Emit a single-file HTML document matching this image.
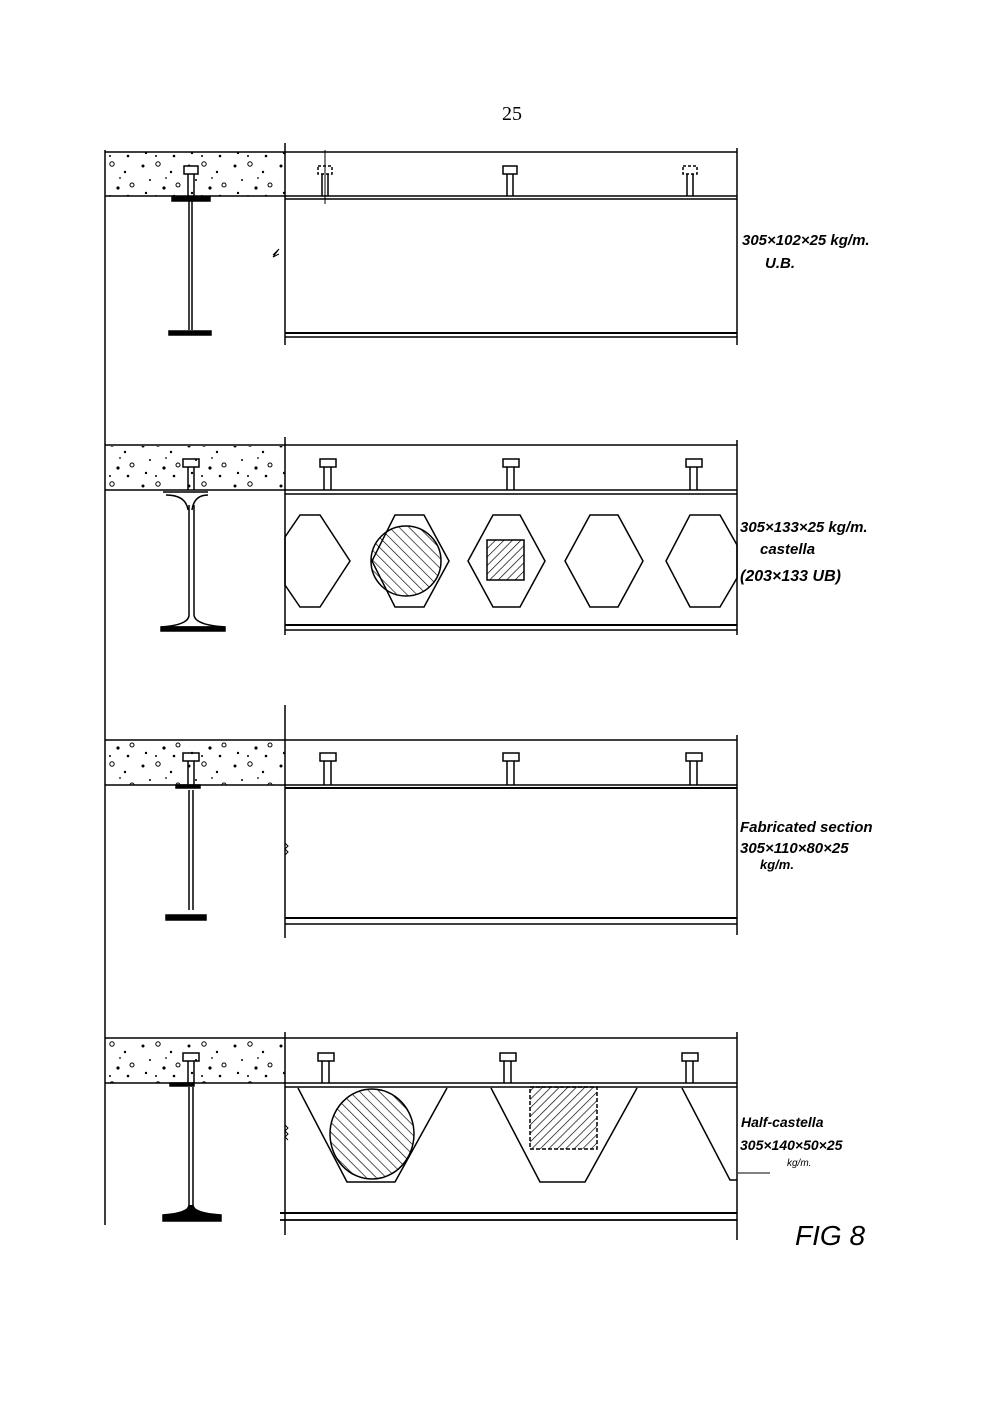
<!DOCTYPE html>
<html><head><meta charset="utf-8"><style>
html,body{margin:0;padding:0;background:#fff;width:1000px;height:1420px;overflow:hidden}
svg{display:block}
.l{font-family:"Liberation Sans",sans-serif;font-weight:bold;font-style:italic;fill:#000}
</style></head><body>
<svg width="1000" height="1420" viewBox="0 0 1000 1420" xmlns="http://www.w3.org/2000/svg">
<defs>
<pattern id="conc" width="46" height="40" patternUnits="userSpaceOnUse">
<circle cx="5" cy="6" r="1.5" fill="#000"/><circle cx="20" cy="4" r="2.2" fill="none" stroke="#000" stroke-width="1"/>
<circle cx="33" cy="12" r="1.2" fill="#000"/><circle cx="12" cy="20" r="1" fill="#000"/>
<circle cx="40" cy="25" r="2" fill="none" stroke="#000" stroke-width="1"/><circle cx="26" cy="28" r="1.6" fill="#000"/>
<circle cx="8" cy="33" r="1.2" fill="#000"/><circle cx="18" cy="36" r="1" fill="#000"/>
<circle cx="36" cy="36" r="1.3" fill="#000"/><circle cx="28" cy="18" r="0.9" fill="#000"/>
</pattern>
<pattern id="hatch" width="6" height="6" patternUnits="userSpaceOnUse" patternTransform="rotate(45)">
<line x1="0" y1="0" x2="0" y2="6" stroke="#000" stroke-width="1.3"/></pattern>
<pattern id="hatch2" width="7" height="7" patternUnits="userSpaceOnUse" patternTransform="rotate(-45)">
<line x1="0" y1="0" x2="0" y2="7" stroke="#000" stroke-width="1.3"/></pattern>
<clipPath id="trap1"><polygon points="298,1088 347,1182 395,1182 447,1088"/></clipPath>
</defs>
<text x="512" y="120" font-family="Liberation Serif" font-size="20" text-anchor="middle">25</text>
<g stroke="#000" fill="none" stroke-width="1.5">
<line x1="105" y1="150" x2="105" y2="1225"/>
</g>

<!-- Panel 1 -->
<g stroke="#000" stroke-width="1.5" fill="none">
<rect x="106" y="152" width="179" height="44" fill="url(#conc)" stroke="none"/>
<line x1="105" y1="152" x2="737" y2="152"/>
<line x1="105" y1="196" x2="737" y2="196"/>
<line x1="285" y1="199" x2="737" y2="199"/>
<line x1="285" y1="143" x2="285" y2="345"/>
<line x1="737" y1="148" x2="737" y2="345"/>
<line x1="285" y1="333" x2="737" y2="333" stroke-width="2"/>
<line x1="285" y1="337" x2="737" y2="337"/>
<rect x="172" y="197" width="38" height="4" fill="#000"/>
<line x1="189" y1="200" x2="189" y2="330"/><line x1="192" y1="200" x2="192" y2="330"/>
<rect x="169" y="331" width="42" height="4" fill="#000"/>
<rect x="184" y="166" width="14" height="8" fill="#fff"/><line x1="188" y1="174" x2="188" y2="196"/><line x1="194" y1="174" x2="194" y2="196"/>
<g stroke-dasharray="3,2"><rect x="318" y="166" width="14" height="8"/><rect x="683" y="166" width="14" height="8"/></g>
<line x1="322" y1="174" x2="322" y2="196"/><line x1="328" y1="174" x2="328" y2="196"/><line x1="325" y1="150" x2="325" y2="204" stroke-width="1"/>
<rect x="503" y="166" width="14" height="8"/><line x1="507" y1="174" x2="507" y2="196"/><line x1="513" y1="174" x2="513" y2="196"/>
<line x1="687" y1="174" x2="687" y2="196"/><line x1="693" y1="174" x2="693" y2="196"/>
<path d="M273,255 l6,-6 -6,8 6,-3" stroke-width="1"/>
</g>
<text class="l" x="742" y="245" font-size="15">305×102×25 kg/m.</text>
<text class="l" x="765" y="268" font-size="15">U.B.</text>

<!-- Panel 2 -->
<g stroke="#000" stroke-width="1.5" fill="none">
<rect x="106" y="446" width="179" height="44" fill="url(#conc)" stroke="none"/>
<line x1="105" y1="445" x2="737" y2="445"/>
<line x1="105" y1="490" x2="737" y2="490"/>
<line x1="285" y1="494" x2="737" y2="494"/>
<line x1="285" y1="437" x2="285" y2="635"/>
<line x1="737" y1="440" x2="737" y2="635"/>
<line x1="285" y1="625" x2="737" y2="625" stroke-width="2"/>
<line x1="285" y1="630" x2="737" y2="630"/>
<path d="M163,492 h45 M166,495 q20,0 22,15 M208,495 q-14,0 -16,15"/>
<line x1="189" y1="505" x2="189" y2="615"/><line x1="194" y1="505" x2="194" y2="615"/>
<path d="M189,615 q0,10 -28,12 h64 q-30,-2 -31,-12"/>
<rect x="161" y="627" width="64" height="4" fill="#000"/>
<rect x="183" y="459" width="16" height="8"/><line x1="188" y1="467" x2="188" y2="490"/><line x1="194" y1="467" x2="194" y2="490"/>
<g>
<rect x="320" y="459" width="16" height="8"/><line x1="324" y1="467" x2="324" y2="490"/><line x1="331" y1="467" x2="331" y2="490"/>
<rect x="503" y="459" width="16" height="8"/><line x1="507" y1="467" x2="507" y2="490"/><line x1="514" y1="467" x2="514" y2="490"/>
<rect x="686" y="459" width="16" height="8"/><line x1="690" y1="467" x2="690" y2="490"/><line x1="697" y1="467" x2="697" y2="490"/>
</g>
<circle cx="406" cy="561" r="35" fill="url(#hatch2)" stroke="#000"/>
<rect x="487" y="540" width="37" height="40" fill="url(#hatch)" stroke="#000"/>
<polygon points="300,515 320,515 350,561 320,607 300,607 285,585 285,537"/>
<polygon points="395,515 424,515 449,561 424,607 395,607 372,561"/>
<polygon points="493,515 520,515 545,561 520,607 493,607 468,561"/>
<polygon points="590,515 618,515 643,561 618,607 590,607 565,561"/>
<polygon points="690,515 720,515 737,545 737,578 720,607 690,607 666,561"/>
</g>
<text class="l" x="740" y="532" font-size="15">305×133×25 kg/m.</text>
<text class="l" x="760" y="554" font-size="15">castella</text>
<text class="l" x="740" y="581" font-size="16">(203×133 UB)</text>

<!-- Panel 3 -->
<g stroke="#000" stroke-width="1.5" fill="none">
<rect x="106" y="741" width="179" height="44" fill="url(#conc)" stroke="none"/>
<line x1="105" y1="740" x2="737" y2="740"/>
<line x1="105" y1="785" x2="737" y2="785"/>
<line x1="285" y1="788" x2="737" y2="788" stroke-width="2"/>
<line x1="285" y1="705" x2="285" y2="938"/>
<line x1="737" y1="735" x2="737" y2="935"/>
<line x1="285" y1="918" x2="737" y2="918" stroke-width="2"/>
<line x1="285" y1="924" x2="737" y2="924"/>
<rect x="176" y="785" width="24" height="3" fill="#000"/>
<line x1="189" y1="790" x2="189" y2="910"/><line x1="193" y1="790" x2="193" y2="910"/>
<rect x="166" y="915" width="40" height="5" fill="#000"/>
<rect x="183" y="753" width="16" height="8"/><line x1="188" y1="761" x2="188" y2="785"/><line x1="194" y1="761" x2="194" y2="785"/>
<rect x="320" y="753" width="16" height="8"/><line x1="324" y1="761" x2="324" y2="785"/><line x1="331" y1="761" x2="331" y2="785"/>
<rect x="503" y="753" width="16" height="8"/><line x1="507" y1="761" x2="507" y2="785"/><line x1="514" y1="761" x2="514" y2="785"/>
<rect x="686" y="753" width="16" height="8"/><line x1="690" y1="761" x2="690" y2="785"/><line x1="697" y1="761" x2="697" y2="785"/>
<path d="M285,843 l3,3 -3,3 3,3 -3,3" stroke-width="1"/>
</g>
<text class="l" x="740" y="832" font-size="15">Fabricated section</text>
<text class="l" x="740" y="853" font-size="15">305×110×80×25</text>
<text class="l" x="760" y="869" font-size="13">kg/m.</text>

<!-- Panel 4 -->
<g stroke="#000" stroke-width="1.5" fill="none">
<rect x="106" y="1039" width="179" height="44" fill="url(#conc)" stroke="none"/>
<line x1="105" y1="1038" x2="737" y2="1038"/>
<line x1="105" y1="1083" x2="737" y2="1083"/>
<line x1="285" y1="1087" x2="737" y2="1087"/>
<line x1="285" y1="1032" x2="285" y2="1235"/>
<line x1="737" y1="1032" x2="737" y2="1240"/>
<line x1="280" y1="1213" x2="737" y2="1213" stroke-width="2"/>
<line x1="280" y1="1220" x2="737" y2="1220" stroke-width="1.8"/>
<rect x="170" y="1083" width="24" height="3" fill="#000"/>
<line x1="189" y1="1087" x2="189" y2="1205"/><line x1="193" y1="1087" x2="193" y2="1205"/>
<path d="M189,1205 q0,8 -26,10 v6 h58 v-6 q-28,-2 -28,-10" fill="#000"/>
<rect x="183" y="1053" width="16" height="8"/><line x1="188" y1="1061" x2="188" y2="1083"/><line x1="194" y1="1061" x2="194" y2="1083"/>
<rect x="318" y="1053" width="16" height="8"/><line x1="322" y1="1061" x2="322" y2="1083"/><line x1="329" y1="1061" x2="329" y2="1083"/>
<rect x="500" y="1053" width="16" height="8"/><line x1="504" y1="1061" x2="504" y2="1083"/><line x1="511" y1="1061" x2="511" y2="1083"/>
<rect x="682" y="1053" width="16" height="8"/><line x1="686" y1="1061" x2="686" y2="1083"/><line x1="693" y1="1061" x2="693" y2="1083"/>
<ellipse cx="372" cy="1134" rx="42" ry="45" fill="url(#hatch2)" stroke="#000" clip-path="url(#trap1)"/>
<rect x="530" y="1087" width="67" height="62" fill="url(#hatch)" stroke="#000" stroke-dasharray="4,2"/>
<polyline points="298,1088 347,1182 395,1182 447,1088"/>
<polyline points="491,1088 540,1182 585,1182 637,1088"/>
<polyline points="682,1088 730,1180 737,1180"/>
<path d="M285,1125 l3,3 -3,3 3,3 -3,3 3,3" stroke-width="1"/>
<line x1="738" y1="1173" x2="770" y2="1173" stroke-width="1"/>
</g>
<text class="l" x="741" y="1127" font-size="14">Half-castella</text>
<text class="l" x="740" y="1150" font-size="14">305×140×50×25</text>
<text class="l" x="787" y="1166" font-size="10" style="font-weight:normal">kg/m.</text>
<text class="l" x="795" y="1245" font-size="28" style="font-weight:normal">FIG 8</text>
</svg>
</body></html>
